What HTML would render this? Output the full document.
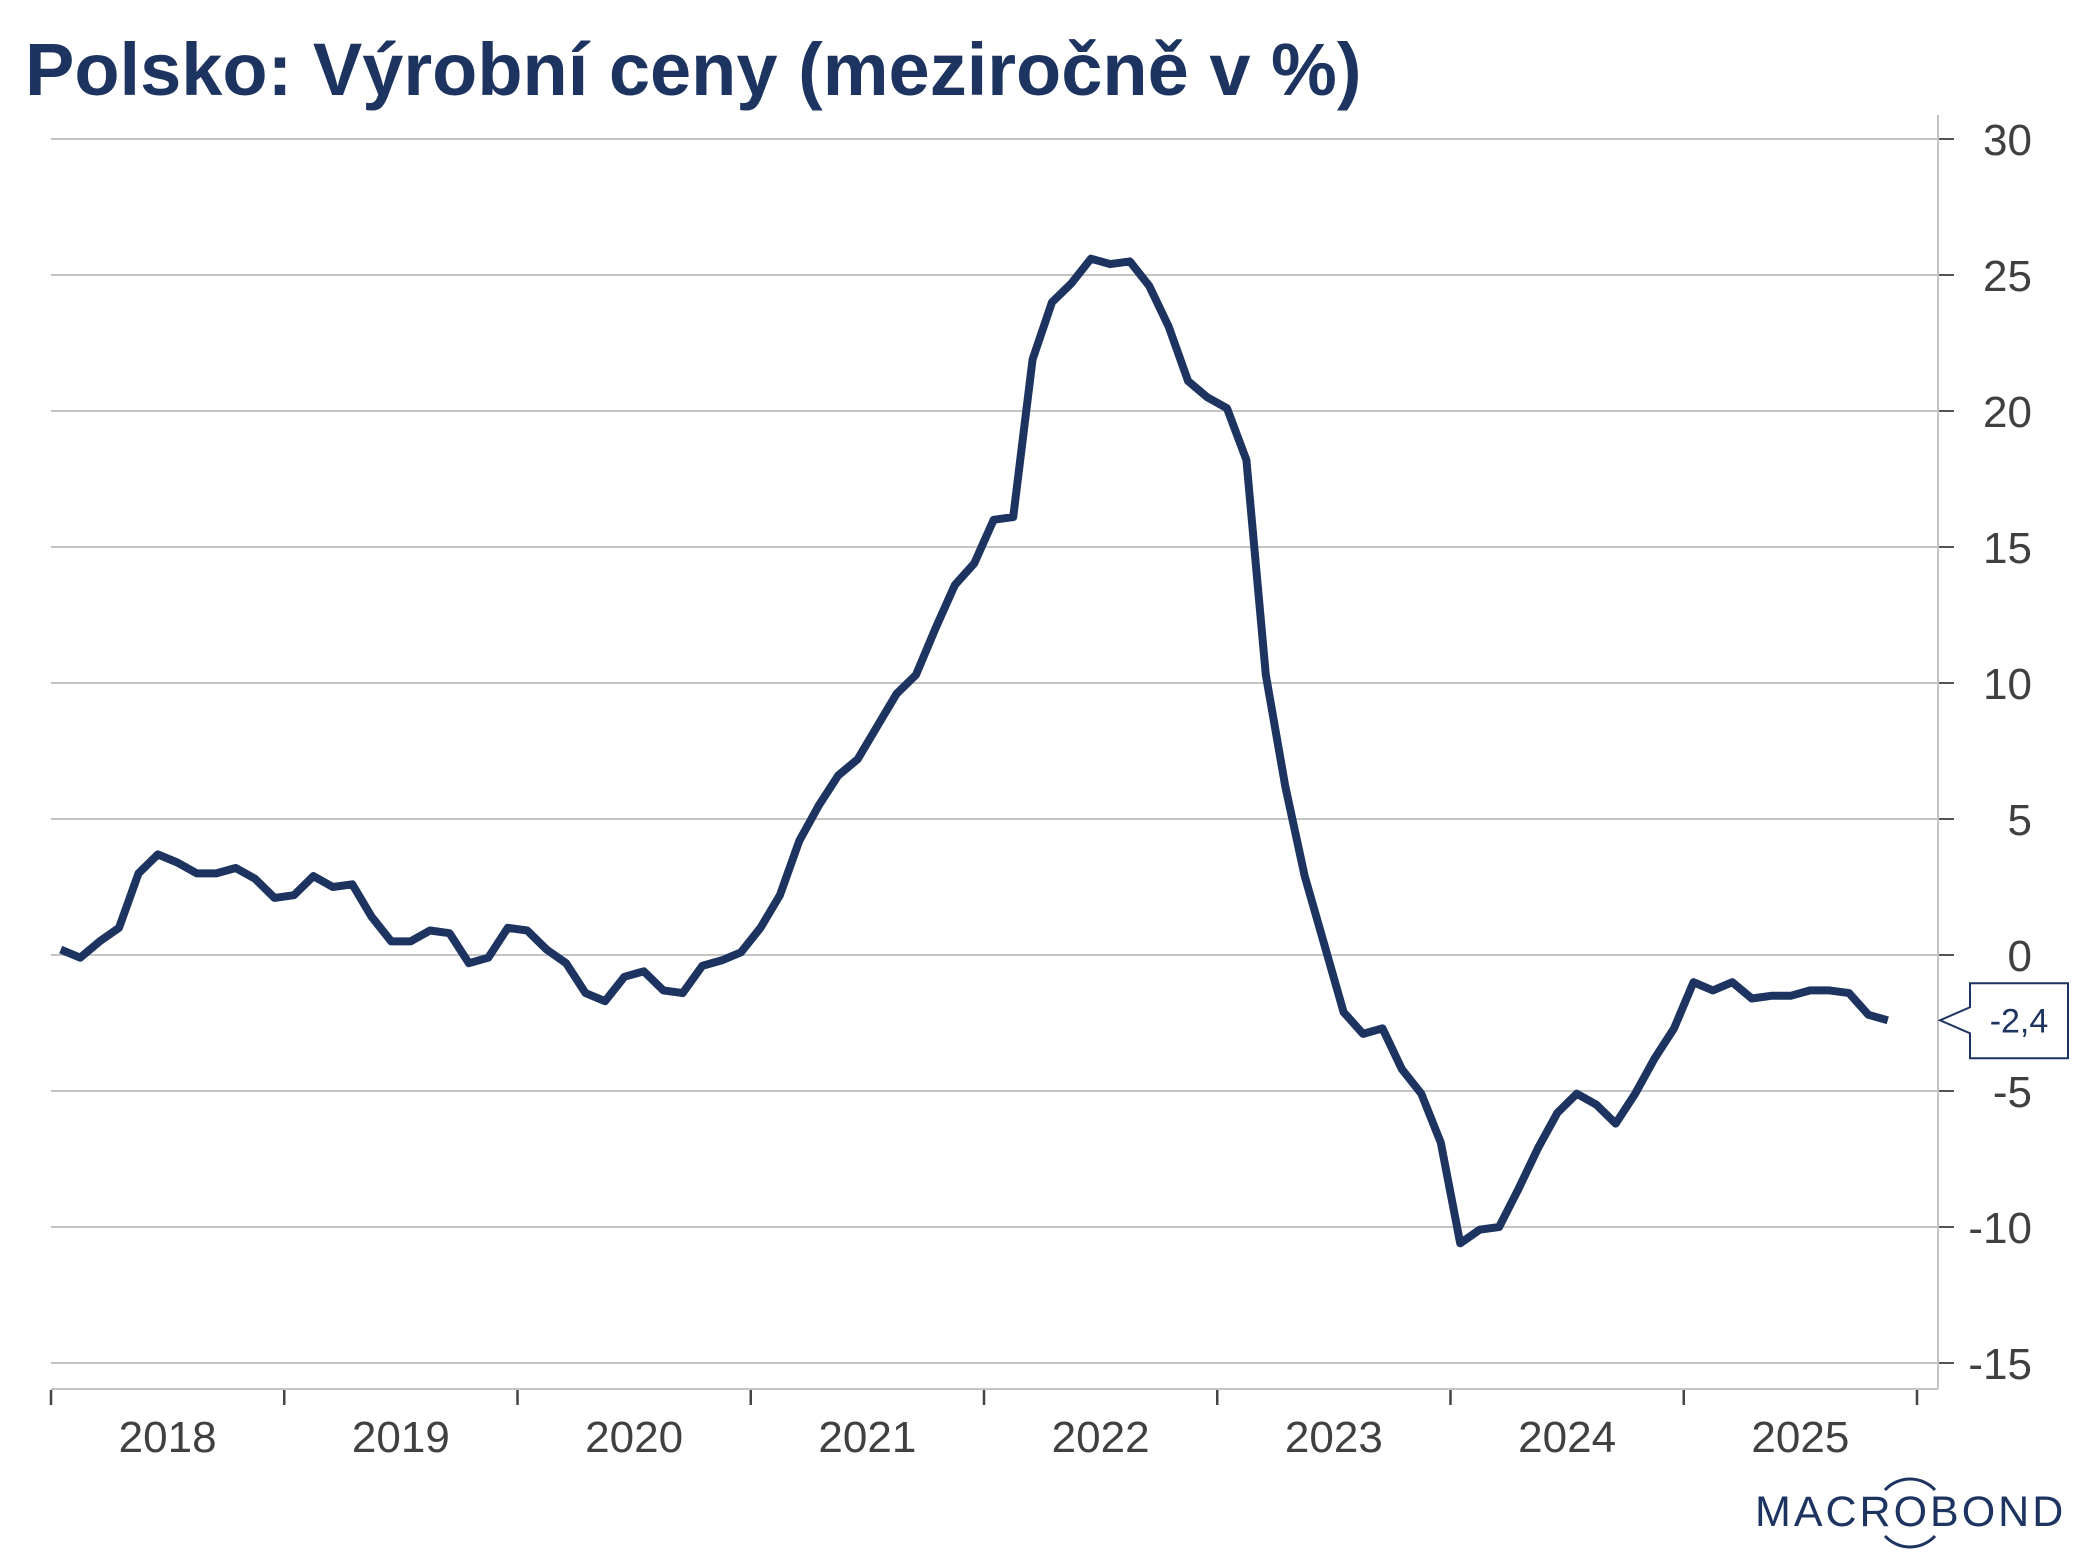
<!DOCTYPE html>
<html><head><meta charset="utf-8"><style>
body{margin:0;background:#fff;}
svg{display:block;font-family:"Liberation Sans",sans-serif;}
</style></head><body>
<svg id="chart" width="2093" height="1568" viewBox="0 0 2093 1568" xmlns="http://www.w3.org/2000/svg">
<text x="25" y="95" font-size="74" font-weight="bold" fill="#1d3461">Polsko: Výrobní ceny (meziročně v %)</text>
<g id="grid"></g>
<g id="yaxis"></g>
<g id="xaxis"></g>
<path id="line" fill="none" stroke="#1d3461" stroke-width="8" stroke-linejoin="round"/>
<g id="lastlabel"></g>
<g>
<text x="1755" y="1526" font-size="43" fill="#1d3461" letter-spacing="3">MACROBOND</text>
<path d="M1885 1490 A34 34 0 0 1 1935 1490" fill="none" stroke="#1d3461" stroke-width="3"/>
<path d="M1885 1536 A34 34 0 0 0 1935 1536" fill="none" stroke="#1d3461" stroke-width="3"/>
</g>
</svg>
<script>
const years = ["2018","2019","2020","2021","2022","2023","2024","2025"];
const yTicks = [30,25,20,15,10,5,0,-5,-10,-15];
const yTickLabels = ["30","25","20","15","10","5","0","-5","-10","-15"];
const values = [
0.2,-0.1,0.5,1.0,3.0,3.7,3.4,3.0,3.0,3.2,2.8,2.1,
2.2,2.9,2.5,2.6,1.4,0.5,0.5,0.9,0.8,-0.3,-0.1,1.0,
0.9,0.2,-0.3,-1.4,-1.7,-0.8,-0.6,-1.3,-1.4,-0.4,-0.2,0.1,
1.0,2.2,4.2,5.5,6.6,7.2,8.4,9.6,10.3,12.0,13.6,14.4,
16.0,16.1,21.9,24.0,24.7,25.6,25.4,25.5,24.6,23.1,21.1,20.5,
20.1,18.2,10.3,6.2,2.9,0.4,-2.1,-2.9,-2.7,-4.2,-5.1,-6.9,
-10.6,-10.1,-10.0,-8.6,-7.1,-5.8,-5.1,-5.5,-6.2,-5.1,-3.8,-2.7,
-1.0,-1.3,-1.0,-1.6,-1.5,-1.5,-1.3,-1.3,-1.4,-2.2,-2.4];
const lastLabel = "-2,4";

const NS="http://www.w3.org/2000/svg";
const X0=51, YEARW=233.25, AXR=1938;
const xOf = m => X0 + (m+0.5)*YEARW/12;
const yOf = v => 955 - v*27.2;
function mk(tag, attrs, parent){const e=document.createElementNS(NS,tag);for(const k in attrs)e.setAttribute(k,attrs[k]);parent.appendChild(e);return e;}
const grid=document.getElementById('grid'), ya=document.getElementById('yaxis'), xa=document.getElementById('xaxis');
yTicks.forEach((t,i)=>{
  const g=mk('line',{x1:X0,x2:AXR,y1:yOf(t),y2:yOf(t),stroke:'#c4c4c4','stroke-width':2},grid);
  
  
  mk('line',{x1:AXR,x2:1954,y1:yOf(t),y2:yOf(t),stroke:'#555','stroke-width':2},ya);
  const tx=mk('text',{x:2032,y:yOf(t)+16,'font-size':44,fill:'#404040','text-anchor':'end'},ya);
  tx.textContent=yTickLabels[i];
  
  
});
mk('line',{x1:AXR,x2:AXR,y1:115,y2:1389,stroke:'#c4c4c4','stroke-width':2},ya);
mk('line',{x1:X0,x2:AXR,y1:1389,y2:1389,stroke:'#c4c4c4','stroke-width':2},xa);
for(let k=0;k<=years.length;k++){
  const x=X0+k*YEARW;
  mk('line',{x1:x,x2:x,y1:1390,y2:1405,stroke:'#444','stroke-width':2.5},xa);
}
years.forEach((y,k)=>{
  const t=mk('text',{x:X0+(k+0.5)*YEARW,y:1452,'font-size':44,fill:'#404040','text-anchor':'middle'},xa);
  t.textContent=y;
  
  
});
document.getElementById('line').setAttribute('d',values.map((v,i)=>(i?'L':'M')+xOf(i).toFixed(1)+' '+yOf(v).toFixed(1)).join(' '));
const ll=document.getElementById('lastlabel');
const ly=yOf(values[values.length-1]);
mk('path',{d:`M1940 ${ly} L1970 ${ly-13} L1970 ${ly-37} L2068 ${ly-37} L2068 ${ly+38} L1970 ${ly+38} L1970 ${ly+13} Z`,fill:'#fff',stroke:'#1d3461','stroke-width':2},ll);
const lt=mk('text',{x:2019,y:ly+12,'font-size':34,fill:'#1d3461','text-anchor':'middle'},ll);
lt.textContent=lastLabel;
</script>
</body></html>
